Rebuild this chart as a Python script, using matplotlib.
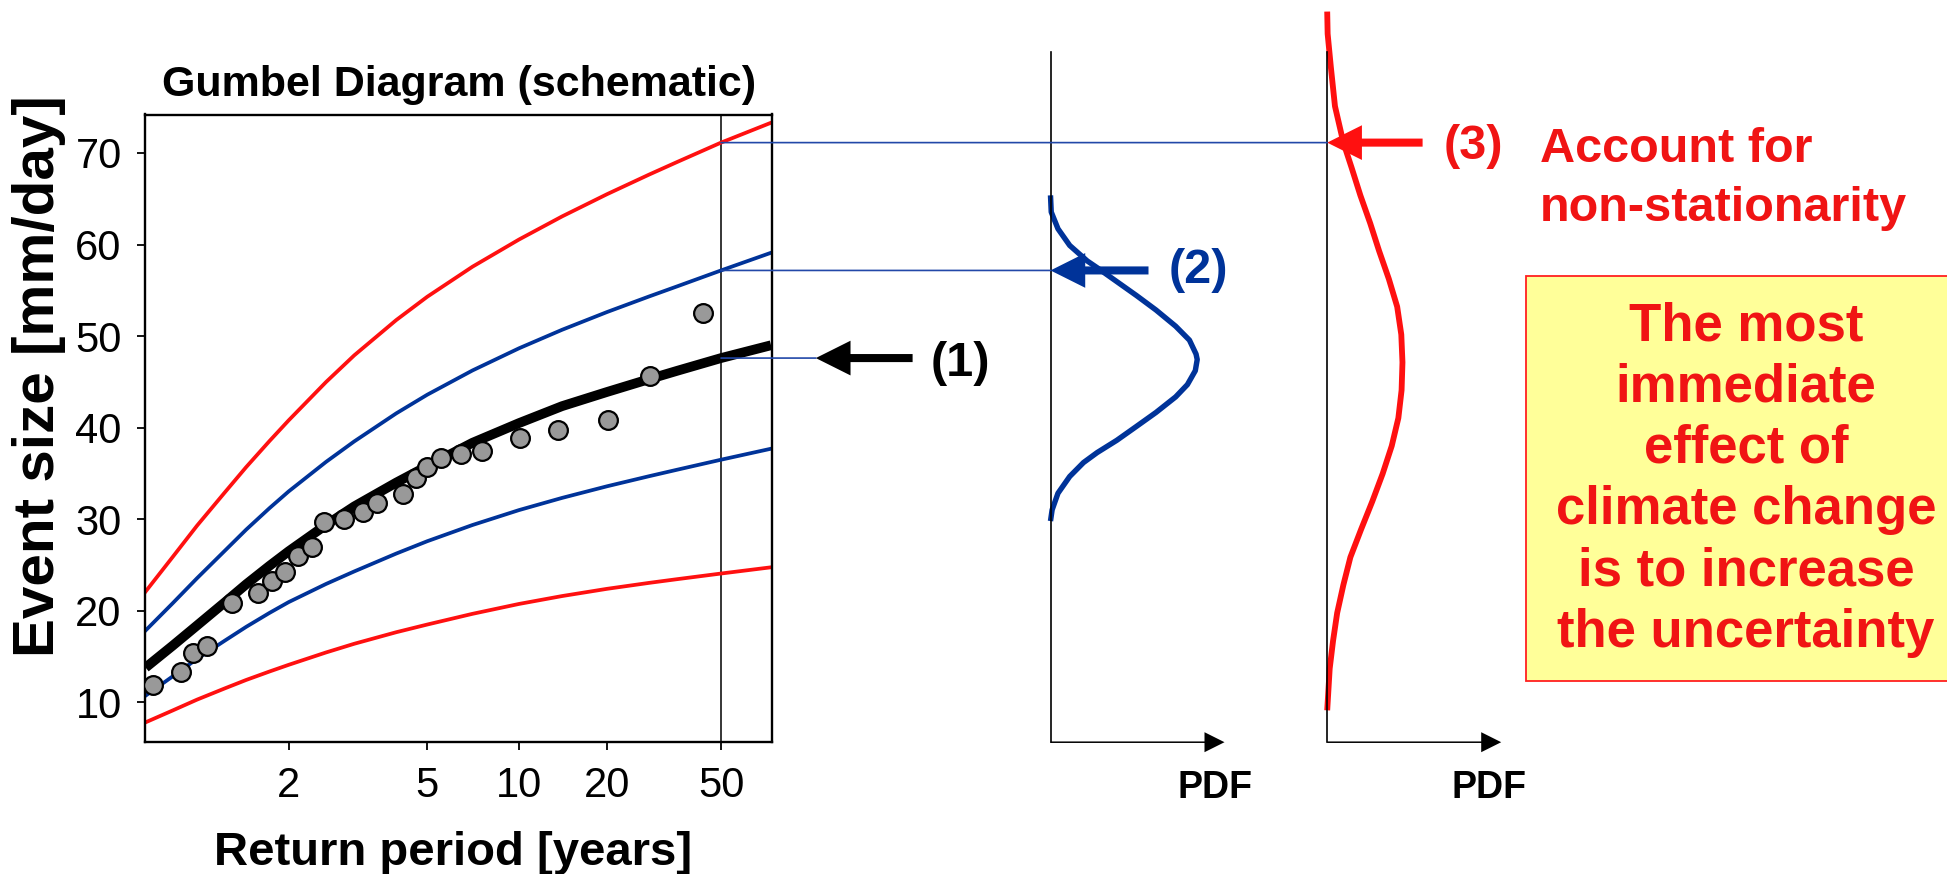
import numpy as np
import matplotlib
matplotlib.use("Agg")
import matplotlib.pyplot as plt
from matplotlib import font_manager as fm
from matplotlib.patches import ConnectionPatch, Rectangle
from matplotlib.transforms import blended_transform_factory
from matplotlib.ticker import NullLocator

# ------------------------------------------------------------------ data
# fitted curves (event size, mm/day) read at these return periods (years)
return_period_grid = [1.12, 1.2, 1.3, 1.45, 1.6, 1.8, 2, 2.5, 3, 4, 5, 7, 10, 14, 20, 28, 35, 50, 75]
fit_central = [13.8, 16.18, 18.4, 20.91, 22.9, 24.91, 26.5, 29.38, 31.4, 34.0,
               35.8, 38.35, 40.5, 42.35, 43.9, 45.3, 46.2, 47.6, 49.0]
band_inner_upper = [17.85, 20.81, 23.56, 26.54, 28.87, 31.21, 33.04, 36.26, 38.5, 41.56,
                    43.6, 46.25, 48.67, 50.69, 52.63, 54.33, 55.42, 57.17, 59.1]
band_inner_lower = [10.73, 12.83, 14.75, 16.73, 18.25, 19.77, 20.95, 22.93, 24.3, 26.25,
                    27.6, 29.37, 31.0, 32.33, 33.6, 34.7, 35.4, 36.5, 37.7]
band_outer_upper = [22.1, 25.86, 29.3, 32.91, 35.7, 38.54, 40.8, 44.98, 47.9, 51.75,
                    54.3, 57.58, 60.55, 63.07, 65.5, 67.64, 69.0, 71.13, 73.3]
band_outer_lower = [7.82, 9.11, 10.3, 11.52, 12.45, 13.37, 14.1, 15.45, 16.4, 17.66,
                    18.5, 19.67, 20.75, 21.61, 22.4, 23.05, 23.45, 24.07, 24.75]

# observed annual maxima
obs_return_period = [1.14, 1.23, 1.28, 1.35, 1.50, 1.70, 1.82, 1.96, 2.11, 2.29,
                     2.47, 2.81, 3.18, 3.49, 4.2, 4.6, 5.0, 5.55, 6.44, 7.5,
                     10.06, 13.6, 20.2, 28.2, 43.1]
obs_event_size = [11.85, 13.3, 15.4, 16.2, 20.9, 21.9, 23.3, 24.2, 26.0, 27.0,
                  29.75, 30.0, 30.77, 31.75, 32.77, 34.48, 35.75, 36.66, 37.1, 37.5,
                  38.84, 39.75, 40.84, 45.64, 52.5]

x_ticks = [2, 5, 10, 20, 50]
x_tick_labels = ["2", "5", "10", "20", "50"]
y_ticks = [10, 20, 30, 40, 50, 60, 70]
design_period = 50

# PDF of the 50-year event (stationary: narrow / non-stationary: wide)
pdf_event_size_narrow = [65.37, 63.55, 61.72, 59.90, 58.20, 57.47, 55.95, 54.43, 52.85,
                         51.08, 49.56, 48.04, 47.44, 46.22, 44.70, 43.36, 41.66, 40.14,
                         38.62, 37.28, 36.19, 34.67, 32.84, 31.02, 29.80]
pdf_density_narrow = [0, 0.005, 0.051, 0.131, 0.251, 0.318, 0.452, 0.586, 0.719,
                      0.853, 0.947, 0.992, 1.0, 0.987, 0.933, 0.853, 0.719, 0.586,
                      0.452, 0.318, 0.225, 0.131, 0.051, 0.011, 0]
pdf_event_size_wide = [85.44, 83.01, 79.36, 75.10, 71.15, 68.41, 65.37, 62.33, 59.29,
                       56.25, 53.21, 50.17, 47.13, 44.09, 41.05, 38.01, 34.97, 31.93,
                       28.89, 25.85, 22.81, 19.77, 16.73, 13.69, 9.13]
pdf_density_wide = [0, 0.003, 0.025, 0.053, 0.110, 0.166, 0.226, 0.293, 0.354,
                    0.420, 0.477, 0.505, 0.513, 0.507, 0.485, 0.440, 0.378, 0.307,
                    0.231, 0.158, 0.110, 0.068, 0.040, 0.017, 0]

box_lines = ["The most", "immediate", "effect of", "climate change",
             "is to increase", "the uncertainty"]

# ------------------------------------------------------------------ style
RED = "#FF1010"
TXT_RED = "#F01414"
BLUE = "#003399"
LINK_BLUE = "#2248A8"
GREY = "#999999"


def font_ok(name):
    try:
        fm.findfont(fm.FontProperties(family=name), fallback_to_default=False)
        return True
    except Exception:
        return False


MAIN = "Liberation Sans" if font_ok("Liberation Sans") else "DejaVu Sans"
plt.rcParams["font.family"] = [MAIN, "DejaVu Sans"]
if font_ok("Liberation Sans Narrow"):
    TICK_FONT, TICK_SIZE = "Liberation Sans Narrow", 36
else:
    TICK_FONT, TICK_SIZE = MAIN, 30

W, H = 1947, 874
fig = plt.figure(figsize=(W / 100, H / 100), dpi=100)
fig.patch.set_facecolor("white")


def fx(px):
    return px / W


def fy(py):
    return 1 - py / H


# ------------------------------------------------------------------ Gumbel axes
def gumbel_fwd(T):
    T = np.asarray(T, dtype=float)
    with np.errstate(all="ignore"):
        Tc = np.where(T > 1.0000001, T, 1.0000001)
        return -np.log(-np.log(1.0 - 1.0 / Tc))


def gumbel_inv(g):
    g = np.asarray(g, dtype=float)
    with np.errstate(all="ignore"):
        return 1.0 / (1.0 - np.exp(-np.exp(-g)))


ax1 = fig.add_axes([fx(145.3), fy(742.2), fx(772) - fx(145.3), fy(114.5) - fy(742.2)])
ax1.set_facecolor("none")
ax1.set_xscale("function", functions=(gumbel_fwd, gumbel_inv))
ax1.set_xlim(1.1193, 75.6)
ax1.set_ylim(5.65, 74.2)

ax1.plot(return_period_grid, band_outer_upper, color=RED, lw=2.7, zorder=2)
ax1.plot(return_period_grid, band_outer_lower, color=RED, lw=2.7, zorder=2)
ax1.plot(return_period_grid, band_inner_upper, color=BLUE, lw=2.7, zorder=2)
ax1.plot(return_period_grid, band_inner_lower, color=BLUE, lw=2.7, zorder=2)
ax1.plot(return_period_grid, fit_central, color="black", lw=7, zorder=3,
         solid_capstyle="butt")
ax1.plot(obs_return_period, obs_event_size, "o", ms=13.5, mfc=GREY, mec="black",
         mew=1.6, zorder=4)
ax1.axvline(design_period, color="black", lw=1.1, zorder=1)

ax1.set_xticks(x_ticks)
ax1.set_xticklabels(x_tick_labels)
ax1.xaxis.set_minor_locator(NullLocator())
ax1.set_yticks(y_ticks)
ax1.tick_params(direction="out", length=6, width=1.3, pad=11)
for lab in ax1.get_xticklabels() + ax1.get_yticklabels():
    lab.set_fontfamily(TICK_FONT)
    lab.set_fontsize(TICK_SIZE)
for s in ax1.spines.values():
    s.set_linewidth(1.7)

ax1.set_title("Gumbel Diagram (schematic)", fontsize=31, fontweight="bold", pad=13)
ax1.set_xlabel("Return period [years]", fontsize=34, fontweight="bold")
ax1.xaxis.set_label_coords(0.491, -0.142)
ax1.set_ylabel("Event size [mm/day]", fontsize=42, fontweight="bold")
ax1.yaxis.set_label_coords(-0.127, 0.583)

# return levels at the design period
i50 = return_period_grid.index(design_period)
lvl1 = fit_central[i50]
lvl2 = band_inner_upper[i50]
lvl3 = band_outer_upper[i50]

# ------------------------------------------------------------------ PDF panels
inv1 = ax1.transData.inverted()


def fig_y_to_value(yfrac):
    return inv1.transform(fig.transFigure.transform((0, yfrac)))[1]


v_bottom = ax1.get_ylim()[0]
v_top = fig_y_to_value(1.0)
v_axis_top = fig_y_to_value(fy(52))
pdf_xmax = 1.186
panel_w = 174

axes_arrow = dict(arrowstyle="simple,head_length=1.44,head_width=1.44,tail_width=0.11",
                  fc="black", ec="none", lw=0, shrinkA=0, shrinkB=0, mutation_scale=10)
big_arrow = "simple,head_length=2.5,head_width=2.5,tail_width=0.58"

panels = []
for left_px, dens, vals, col, lw in [
        (1050.5, pdf_density_narrow, pdf_event_size_narrow, BLUE, 3.9),
        (1327.2, pdf_density_wide, pdf_event_size_wide, RED, 4.2)]:
    ax = fig.add_axes([fx(left_px), fy(742.2), panel_w / W, 1 - fy(742.2)])
    ax.set_facecolor("none")
    ax.set_xlim(0, pdf_xmax)
    ax.set_ylim(v_bottom, v_top)
    for s in ["top", "right", "bottom"]:
        ax.spines[s].set_visible(False)
    ax.spines["left"].set_bounds(v_bottom, v_axis_top)
    ax.spines["left"].set_linewidth(1.2)
    ax.set_xticks([])
    ax.set_yticks([])
    ax.plot(dens, vals, color=col, lw=lw, solid_capstyle="butt",
            solid_joinstyle="round", clip_on=False)
    ax.annotate("", xy=(1, 0), xytext=(0, 0), xycoords="axes fraction",
                arrowprops=axes_arrow, annotation_clip=False)
    panels.append(ax)

ax2, ax3 = panels
ax2.text(0.943, -0.0622, "PDF", transform=ax2.transAxes, ha="center", va="center",
         fontsize=27, fontweight="bold")
ax3.text(0.931, -0.0622, "PDF", transform=ax3.transAxes, ha="center", va="center",
         fontsize=27, fontweight="bold")

# ------------------------------------------------------------------ connectors
blend1 = blended_transform_factory(fig.transFigure, ax1.transData)
links = [
    ConnectionPatch(xyA=(design_period, lvl1), coordsA=ax1.transData,
                    xyB=(fx(815.8), lvl1), coordsB=blend1),
    ConnectionPatch(xyA=(design_period, lvl2), coordsA=ax1.transData,
                    xyB=(0, lvl2), coordsB=ax2.transData),
    ConnectionPatch(xyA=(design_period, lvl3), coordsA=ax1.transData,
                    xyB=(0, lvl3), coordsB=ax3.transData),
]
for cp in links:
    cp.set_color(LINK_BLUE)
    cp.set_linewidth(1.2)
    fig.add_artist(cp)

# ------------------------------------------------------------------ arrows + labels
ax1.annotate("", xy=(fx(815.8), lvl1), xytext=(fx(912.6), lvl1),
             xycoords=("figure fraction", "data"),
             arrowprops=dict(arrowstyle=big_arrow, fc="black", ec="none", lw=0,
                             shrinkA=0, shrinkB=0, mutation_scale=10),
             annotation_clip=False)
ax1.annotate("(1)", xy=(fx(960), lvl1), xycoords=("figure fraction", "data"),
             xytext=(0, -4), textcoords="offset points", ha="center", va="center",
             fontsize=35, fontweight="bold", annotation_clip=False)

tail2 = (1148.5 - 1050.5) / panel_w * pdf_xmax
ax2.annotate("", xy=(0, lvl2), xytext=(tail2, lvl2),
             arrowprops=dict(arrowstyle=big_arrow, fc=BLUE, ec="none", lw=0,
                             shrinkA=0, shrinkB=0, mutation_scale=10),
             annotation_clip=False)
ax2.annotate("(2)", xy=((1198 - 1050.5) / panel_w * pdf_xmax, lvl2), ha="center",
             va="center", fontsize=35, fontweight="bold", color=BLUE,
             annotation_clip=False)

tail3 = (1422.6 - 1327.2) / panel_w * pdf_xmax
ax3.annotate("", xy=(0, lvl3), xytext=(tail3, lvl3),
             arrowprops=dict(arrowstyle=big_arrow, fc=RED, ec="none", lw=0,
                             shrinkA=0, shrinkB=0, mutation_scale=10),
             annotation_clip=False)
ax3.annotate("(3)", xy=((1473 - 1327.2) / panel_w * pdf_xmax, lvl3),
             xytext=(0, -3), textcoords="offset points", ha="center", va="center",
             fontsize=35, fontweight="bold", color=TXT_RED, annotation_clip=False)
note_x = (1540 - 1327.2) / panel_w * pdf_xmax
for line_text, dy in [("Account for", -13.8), ("non-stationarity", -56.7)]:
    ax3.annotate(line_text, xy=(note_x, lvl3), xytext=(0, dy),
                 textcoords="offset points", ha="left", va="baseline",
                 fontsize=35, fontweight="bold", color=TXT_RED,
                 annotation_clip=False)

# ------------------------------------------------------------------ message box
fig.add_artist(Rectangle((fx(1525.5), fy(681)), fx(1960) - fx(1525.5), fy(275.8) - fy(681),
                         transform=fig.transFigure, facecolor="#FFFF99",
                         edgecolor="#FF2020", lw=1.3, zorder=5))
fig.text(fx(1746), fy(479.3), "\n".join(box_lines), ha="center", va="center",
         multialignment="center", fontsize=38, fontweight="bold", color=TXT_RED,
         linespacing=1.29, zorder=6)

fig.savefig("out.png", dpi=100)
